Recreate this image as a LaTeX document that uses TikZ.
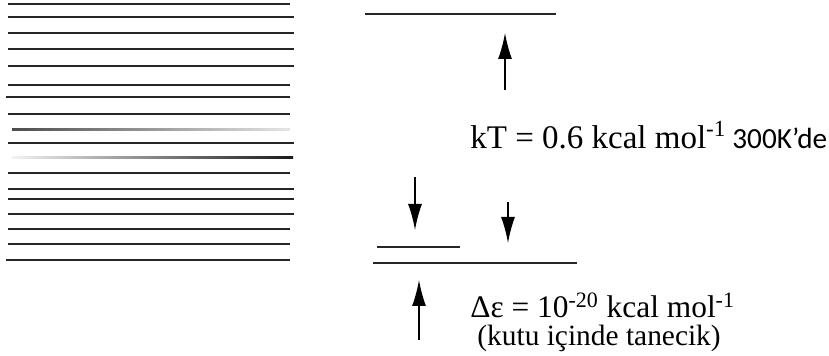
\documentclass[tikz,border=0pt]{standalone}
\usepackage{fontspec}
\setmainfont{Liberation Serif}
\newfontfamily\calibri{Carlito}
\usetikzlibrary{arrows.meta}

\begin{document}
\begin{tikzpicture}[x=0.5pt,y=-0.5pt,
  level/.style={line width=1pt,black!85},
  arr/.style={-{Latex[length=13pt,width=7pt]},line width=0.75pt},
  lab/.style={anchor=base west,inner sep=0pt,font=\fontsize{16.5}{18}\selectfont}]
\useasboundingbox (0,0) rectangle (829,356);
% dense levels on the left
\foreach \y/\a/\b in {4/8/290,17/8/294,33/8/294,49/8/294,66/8/294,85/8/290,97/6/290,114/8/290,143/8/294,173/8/290,189/8/294,199/8/294,214/8/294,229/8/290,244/8/290,260/6/290}{\draw[level] (\a,\y)--(\b,\y);}
\shade[left color=black!70,right color=black!10] (12,128.5) rectangle (290,130.5);
\shade[left color=black!5,right color=black!90] (12,157) rectangle (293,159);
% widely spaced levels on the right
\draw[level] (365,14)--(556,14);
\draw[level] (377,247)--(460,247);
\draw[level] (373,263)--(577,263);
\coordinate (kTfoot) at (505,90); \coordinate (kThead) at (505,33);
\coordinate (Lfoot) at (415,177); \coordinate (Lhead) at (415,230);
\coordinate (Rfoot) at (508,202); \coordinate (Rhead) at (508,243);
\coordinate (Bfoot) at (419,340); \coordinate (Bhead) at (419,280);
\draw[arr] (kTfoot)--(kThead);
\draw[arr] (Lfoot)--(Lhead);
\draw[arr] (Rfoot)--(Rhead);
\draw[arr] (Bfoot)--(Bhead);
\node[lab] (kT) at (470,149) {kT = 0.6 kcal mol\textsuperscript{-1}};
\node[lab,font=\calibri\fontsize{14.6}{16}\selectfont] (temp) at (732,149) {300K’de};
\node[lab,font=\fontsize{15.7}{17}\selectfont] (de) at (470,318) {Δε = 10\textsuperscript{-20} kcal mol\textsuperscript{-1}};
\node[lab,font=\fontsize{14.7}{16}\selectfont] (box) at (477,346) {(kutu içinde tanecik)};
\end{tikzpicture}
\end{document}
